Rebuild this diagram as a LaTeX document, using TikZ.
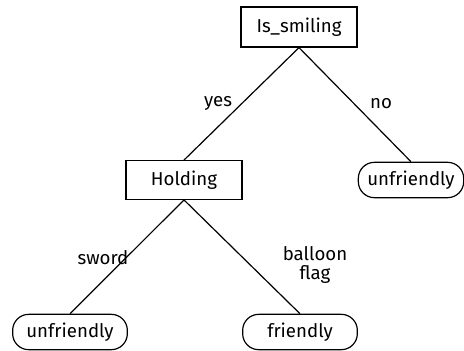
\documentclass[tikz,border=0pt]{standalone}
\usepackage{fontspec}
\setmainfont{Fira Sans}
\usetikzlibrary{positioning}

\begin{document}
\begin{tikzpicture}[x=0.75pt, y=-0.75pt,
    test/.style={rectangle, draw, line width=0.9pt, minimum width=87pt, minimum height=29pt, font=\fontsize{14}{16}\selectfont},
    leaf/.style={rectangle, draw, line width=0.9pt, rounded corners=12pt, minimum width=86pt, minimum height=26.5pt, font=\fontsize{14}{16}\selectfont},
    branch/.style={line width=0.9pt},
    lbl/.style={font=\fontsize{14}{16}\selectfont, align=center, inner sep=1pt},
]
\useasboundingbox (0,0) rectangle (464,350);

% tests
\node[test, minimum height=30pt] (smiling) at (299,27) {Is\_smiling};
\node[test] (holding) at (184,180) {Holding};

% leaves
\node[leaf, minimum width=79pt] (unfr1) at (411,180) {unfriendly};
\node[leaf] (unfr2) at (70,332) {unfriendly};
\node[leaf] (friendly) at (300,332) {friendly};

% branches
\draw[branch] (smiling.south) -- (holding.north);
\draw[branch] (smiling.south) -- (unfr1.north);
\draw[branch] (holding.south) -- (unfr2.north);
\draw[branch] (holding.south) -- (friendly.north);

% branch values
\node[lbl] (yes) at (218,103) {yes};
\node[lbl] (no) at (381,104) {no};
\node[lbl] (sword) at (103,258) {sword};
\node[lbl] (ballflag) at (315,265) {balloon\\[-1.5pt]flag};
\end{tikzpicture}
\end{document}
